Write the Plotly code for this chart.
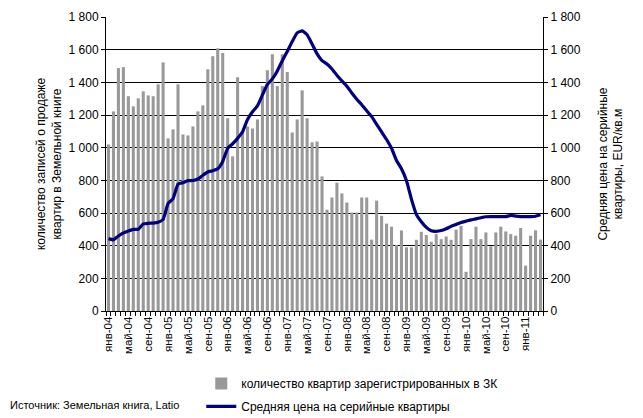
import plotly.graph_objects as go

month_names = ["янв", "фев", "мар", "апр", "май", "июн", "июл", "авг", "сен", "окт", "ноя", "дек"]
categories = [f"{month_names[i % 12]}-{(4 + i // 12):02d}" for i in range(88)]  # янв-04 … апр-11

registrations = [
    1020, 1222, 1487, 1493, 1315, 1253, 1302, 1345, 1320, 1315, 1388, 1522,
    1057, 1112, 1388, 1081, 1075, 1130, 1222, 1259, 1480, 1560, 1609, 1580,
    1180, 947, 1431, 1100, 1130, 1118, 1173, 1377, 1474, 1572, 1377, 1572,
    1463, 1093, 1173, 1351, 1180, 1033, 1038, 824, 620, 695, 786, 720,
    664, 603, 603, 695, 695, 437, 676, 583, 535, 516, 405, 493,
    390, 390, 436, 485, 465, 424, 471, 440, 456, 436, 498, 522,
    240, 440, 516, 440, 481, 396, 481, 516, 487, 471, 461, 508,
    278, 461, 494, 437,
]

avg_price = [
    443, 436, 459, 478, 490, 500, 500, 533, 537, 538, 543, 561,
    658, 688, 777, 786, 798, 799, 808, 831, 851, 859, 871, 916,
    996, 1024, 1057, 1097, 1173, 1220, 1256, 1323, 1387, 1421, 1470, 1532,
    1589, 1650, 1703, 1715, 1691, 1635, 1574, 1533, 1512, 1482, 1443, 1409,
    1376, 1335, 1297, 1263, 1226, 1190, 1143, 1096, 1050, 996, 922, 871,
    799, 685, 591, 547, 512, 491, 488, 493, 504, 518, 530, 542,
    550, 558, 564, 571, 577, 578, 578, 578, 578, 585, 581, 578,
    578, 578, 580, 589,
]

y_ticks = list(range(0, 1801, 200))
y_ticktext = [f"{v:,}".replace(",", " ") for v in y_ticks]
x_ticktext = [c if i % 4 == 0 else "" for i, c in enumerate(categories)]

bar_name = "количество квартир зарегистрированных в ЗК"
line_name = "Средняя цена на серийные квартиры"
left_title = "количество записей о продаже<br>квартир в Земельной книге"
right_title = "Средняя цена на серийные<br>квартиры, EUR/кв.м"
source_text = "Источник: Земельная книга, Latio"

FONT = "Liberation Sans, Arial, sans-serif"

fig = go.Figure()
fig.add_trace(go.Bar(
    x=categories, y=registrations, name=bar_name,
    marker=dict(color="#999999", line=dict(width=0)),
    legendgroup="a",
))
fig.add_trace(go.Scatter(
    x=categories, y=avg_price, name=line_name, yaxis="y2",
    mode="lines", line=dict(color="#000080", width=3.2, shape="spline", smoothing=0.4),
    legendgroup="b",
))

# page body has an 8px margin, so the figure is drawn 8px smaller and offset
fig.update_layout(
    width=635, height=410,
    margin=dict(l=98, r=100, t=9, b=107, autoexpand=False),
    paper_bgcolor="white", plot_bgcolor="white",
    font=dict(family=FONT, size=12, color="black"),
    bargap=0.38,
    showlegend=True,
    legend=dict(
        x=0.218, y=-0.197, xanchor="left", yanchor="top",
        font=dict(size=12), traceorder="grouped", tracegroupgap=4,
        bgcolor="rgba(0,0,0,0)",
    ),
    xaxis=dict(
        type="category", tickvals=categories, ticktext=x_ticktext,
        tickangle=-90, tickfont=dict(size=11.5), automargin=False,
        ticks="outside", ticklen=4, tickcolor="black", tickson="boundaries",
        showline=True, linecolor="black", linewidth=1,
        showgrid=False, zeroline=False,
    ),
    yaxis=dict(
        range=[0, 1800], tickvals=y_ticks, ticktext=y_ticktext, automargin=False,
        ticks="outside", ticklen=4, tickcolor="black",
        showline=True, linecolor="black", linewidth=1,
        showgrid=True, gridcolor="black", gridwidth=1, zeroline=False,
        title=dict(text=left_title, font=dict(size=12), standoff=4),
    ),
    yaxis2=dict(
        range=[0, 1800], tickvals=y_ticks, ticktext=y_ticktext, automargin=False,
        overlaying="y", side="right",
        ticks="outside", ticklen=4, tickcolor="black",
        showline=True, linecolor="black", linewidth=1,
        showgrid=False, zeroline=False,
        title=dict(text=right_title, font=dict(size=12), standoff=18),
    ),
    annotations=[dict(
        text=source_text, xref="paper", yref="paper",
        x=-0.2243, y=-0.32, xanchor="left", yanchor="middle",
        showarrow=False, font=dict(size=11),
    )],
)

fig.write_html("out.html")
